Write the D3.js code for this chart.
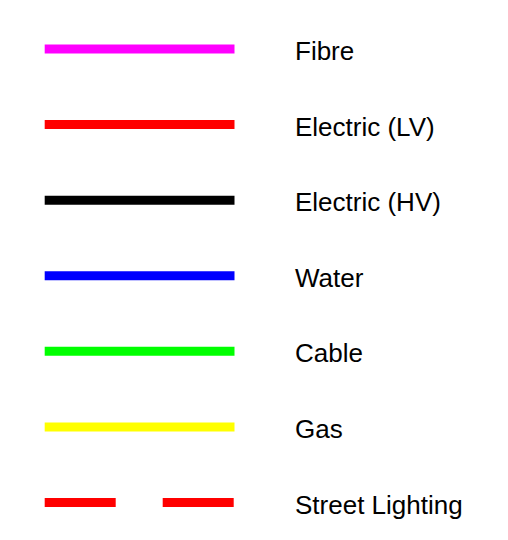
<!DOCTYPE html>
<html><head><meta charset="utf-8">
<script src="https://cdn.jsdelivr.net/npm/d3@7"></script>
<style>body{margin:0;background:#fff}</style>
</head><body>
<script>
const labels = ["Fibre","Electric (LV)","Electric (HV)","Water","Cable","Gas","Street Lighting"];
const colors = ["#ff00ff","#ff0000","#000000","#0000ff","#00ff00","#ffff00","#ff0000"];
const dashes = [null,null,null,null,null,null,"71,47"];

const W = 508, H = 540;
const svg = d3.select("body").append("svg").attr("width", W).attr("height", H);
const y = d3.scalePoint().domain(labels).range([49, 502.5]);
const x = d3.scaleLinear().domain([0,1]).range([44.7, 234.5]);

const rows = svg.selectAll("g.row").data(labels).join("g").attr("class","row");
rows.append("line")
  .attr("x1", x(0)).attr("x2", x(1))
  .attr("y1", d => y(d)).attr("y2", d => y(d))
  .attr("stroke", (d,i) => colors[i])
  .attr("stroke-width", 9)
  .attr("stroke-dasharray", (d,i) => dashes[i]);
rows.append("text")
  .attr("x", 295).attr("y", d => y(d) + 11)
  .attr("font-family", "Liberation Sans, Arial, sans-serif")
  .attr("font-size", 26).attr("fill", "#000")
  .text(d => d);
</script>
</body></html>
